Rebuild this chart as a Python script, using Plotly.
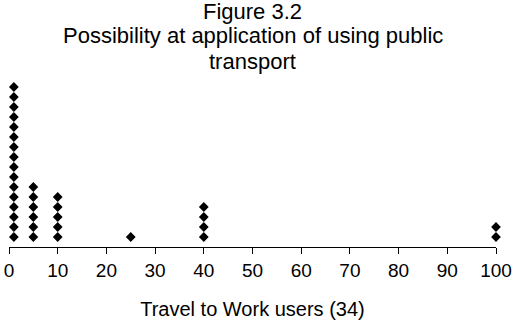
import plotly.graph_objects as go

# Data
usage_values = [1, 5, 10, 25, 40, 100]   # Travel to Work users
response_counts = [16, 6, 5, 1, 4, 2]     # number of stacked points at each value
title_lines = ["Figure 3.2", "Possibility at application of using public", "transport"]

xs, ys = [], []
for v, c in zip(usage_values, response_counts):
    for i in range(1, c + 1):
        xs.append(v)
        ys.append(i)

font_family = "Liberation Sans, Arial, sans-serif"

fig = go.Figure(
    go.Scatter(
        x=xs, y=ys, mode="markers",
        marker=dict(symbol="diamond", size=7.5, color="black"),
        cliponaxis=False,
        showlegend=False,
    )
)

fig.update_layout(
    width=518, height=336,
    margin=dict(l=9, r=22, t=77, b=89, autoexpand=False),
    paper_bgcolor="white", plot_bgcolor="white",
    font=dict(family=font_family, color="black", size=19),
)

title_y = [1.385, 1.244, 1.092]
for txt, yy in zip(title_lines, title_y):
    fig.add_annotation(
        text=txt, xref="paper", yref="paper", x=0.5, y=yy,
        xanchor="center", yanchor="middle", showarrow=False,
        font=dict(size=22, family=font_family, color="black"),
    )

fig.update_xaxes(
    range=[0, 100], tick0=0, dtick=10, automargin=False,
    showline=True, linecolor="black", linewidth=1,
    ticks="outside", ticklen=6, tickcolor="black", tickwidth=1,
    showgrid=False, zeroline=False,
    tickfont=dict(size=19),
    title=dict(text="Travel to Work users (34)", font=dict(size=20), standoff=22),
)
fig.update_yaxes(
    range=[0, 17], visible=False, showgrid=False, zeroline=False, automargin=False,
)

fig.write_html("out.html")
